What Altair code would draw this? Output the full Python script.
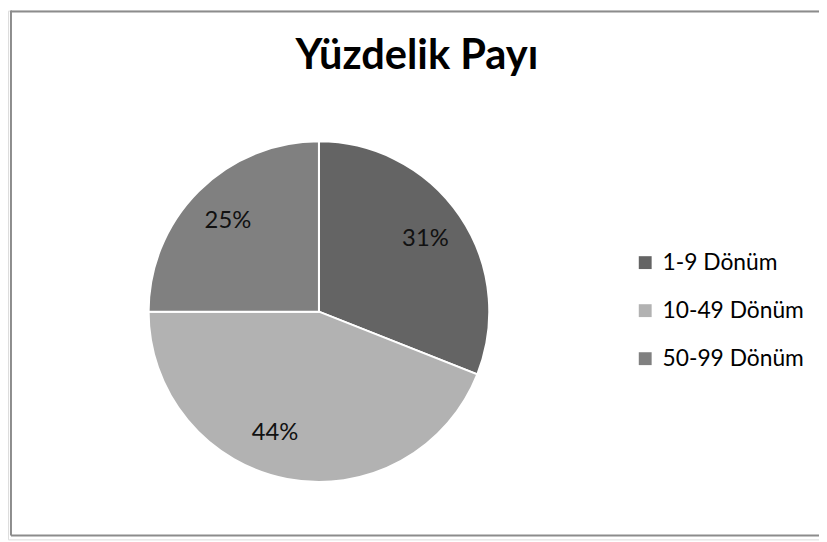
import math
import altair as alt
import pandas as pd

title_text = "Yüzdelik Payı"
categories = ["1-9 Dönüm", "10-49 Dönüm", "50-99 Dönüm"]
values = [31, 44, 25]
colors = ["#646464", "#b2b2b2", "#808080"]

df = pd.DataFrame({"cat": categories, "value": values, "idx": list(range(len(values)))})

CX, CY = 314, 304
FONT = "Lato"
theta_scale = alt.Scale(domain=[0, 100], range=[0, 2 * math.pi])

pie = alt.Chart(df).mark_arc(outerRadius=172, stroke="white", strokeWidth=2).encode(
    theta=alt.Theta("value:Q", stack=True, scale=theta_scale),
    order=alt.Order("idx:Q"),
    x=alt.value(CX),
    y=alt.value(CY),
    color=alt.Color(
        "cat:N",
        scale=alt.Scale(domain=categories, range=colors),
        sort=categories,
        legend=alt.Legend(
            title=None,
            orient="none",
            legendX=632,
            legendY=243,
            symbolType="square",
            symbolSize=169,
            symbolStrokeWidth=0,
            symbolOpacity=1,
            labelFontSize=23,
            labelFont=FONT,
            labelColor="#000000",
            labelOffset=6,
            rowPadding=24.5,
            padding=0,
        ),
    ),
)

label_base = alt.Chart(df).transform_window(
    cum="sum(value)", sort=[alt.SortField("idx")], frame=[None, 0]
).transform_calculate(
    mid="datum.cum - datum.value / 2", label="datum.value + '%'"
)

def label_layer(filt, offset, radius):
    return label_base.transform_filter(filt).mark_text(
        radius=radius, thetaOffset=offset, fontSize=24, font=FONT, color="#111111"
    ).encode(
        theta=alt.Theta("mid:Q", scale=theta_scale),
        x=alt.value(CX),
        y=alt.value(CY),
        text=alt.Text("label:N"),
    )

labels_main = label_layer("datum.idx != 1", 0, 130)
labels_44 = label_layer("datum.idx == 1", 0.16, 130)

title = alt.Chart(alt.Data(values=[{"t": title_text}])).mark_text(
    fontSize=42, fontWeight="bold", font=FONT,
    baseline="alphabetic", align="center", color="#000000",
).encode(x=alt.value(413), y=alt.value(59), text="t:N")

frame_data = alt.Data(values=[{"k": 1}])
left_line = alt.Chart(frame_data).mark_rule(color="#8c8c8c", strokeWidth=2).encode(
    x=alt.value(3), y=alt.value(0), y2=alt.value(530)
)
bottom_line = alt.Chart(frame_data).mark_rule(color="#8c8c8c", strokeWidth=2).encode(
    x=alt.value(3), x2=alt.value(819), y=alt.value(530)
)
top_line = alt.Chart(frame_data).mark_rule(color="#8c8c8c", strokeWidth=2).encode(
    x=alt.value(3), x2=alt.value(819), y=alt.value(1)
)

chart = alt.layer(left_line, bottom_line, top_line, pie, labels_main, labels_44, title).properties(
    width=819,
    height=534,
    autosize=alt.AutoSizeParams(type="none"),
    padding=0,
).configure_view(stroke=None).configure(background="white")

chart.save("out.html", embed_options={"renderer": "svg", "actions": False})
